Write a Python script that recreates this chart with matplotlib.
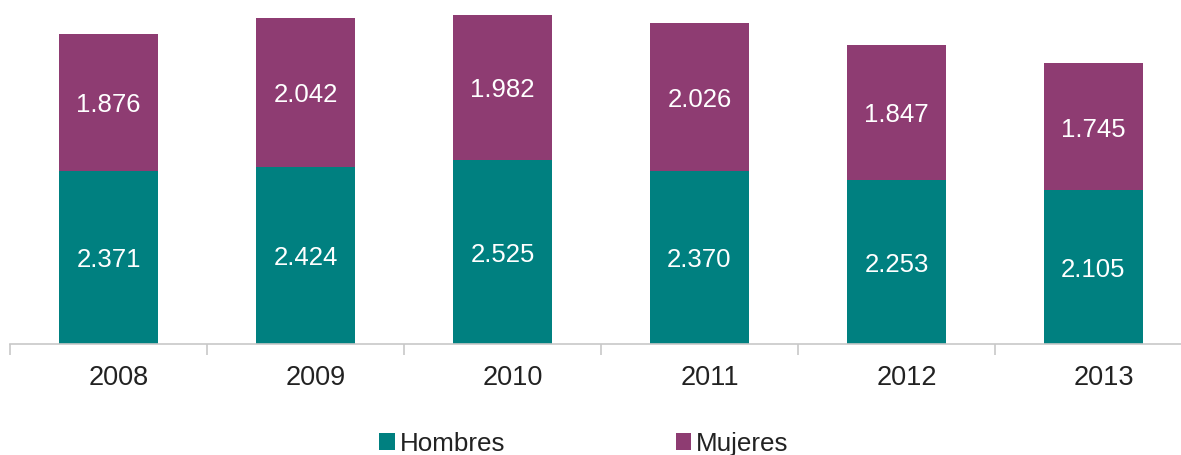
import numpy as np
import matplotlib
matplotlib.use('Agg')
import matplotlib.pyplot as plt
import matplotlib.transforms as mtransforms

years = ['2008', '2009', '2010', '2011', '2012', '2013']
hombres = [2371, 2424, 2525, 2370, 2253, 2105]
mujeres = [1876, 2042, 1982, 2026, 1847, 1745]

TEAL = '#008080'
PURPLE = '#8E3C72'

plt.rcParams['font.family'] = ['Liberation Sans', 'DejaVu Sans']

fig = plt.figure(figsize=(11.81, 4.55), dpi=100)
ax = fig.add_axes([10 / 1181, 111 / 455, 1171 / 1181, 344 / 455])

x = np.arange(len(years))
b1 = ax.bar(x, hombres, width=0.5, color=TEAL, label='Hombres')
b2 = ax.bar(x, mujeres, width=0.5, bottom=hombres, color=PURPLE, label='Mujeres')

def fmt(v):
    return f'{v:,}'.replace(',', '.')

for i in range(len(years)):
    ax.text(x[i], hombres[i] / 2 - 40, fmt(hombres[i]), ha='center', va='center',
            color='white', fontsize=18.5)
    ax.text(x[i], hombres[i] + mujeres[i] / 2 - 40, fmt(mujeres[i]), ha='center',
            va='center', color='white', fontsize=18.5)

for s in ['top', 'right', 'left']:
    ax.spines[s].set_visible(False)
ax.spines['bottom'].set_color('#C8C8C8')
ax.spines['bottom'].set_linewidth(1.2)
ax.set_yticks([])

ax.set_xticks(x)
ax.set_xticklabels(years, fontsize=19.5, color='#222222')
ax.tick_params(axis='x', which='major', length=0, pad=15)
ax.set_xticks(np.arange(-0.5, 5.0, 1.0), minor=True)
ax.tick_params(axis='x', which='minor', length=8, width=1.2, color='#C8C8C8')

# year labels sit a little right of the bar centres in the original
shift = mtransforms.ScaledTranslation(10 / 100, 0, fig.dpi_scale_trans)
for lab in ax.get_xticklabels():
    lab.set_transform(lab.get_transform() + shift)

ax.set_xlim(-0.5, -0.5 + 1171 / 197)
ax.set_ylim(0, 4712)

fig.legend(handles=[b1, b2], loc='center', bbox_to_anchor=(0.4945, 0.025), ncol=2,
           frameon=False, fontsize=18.7, handlelength=0.6, handleheight=0.6,
           handletextpad=0.2, columnspacing=6.55, labelcolor='#222222')

fig.savefig('out.png', dpi=100)
